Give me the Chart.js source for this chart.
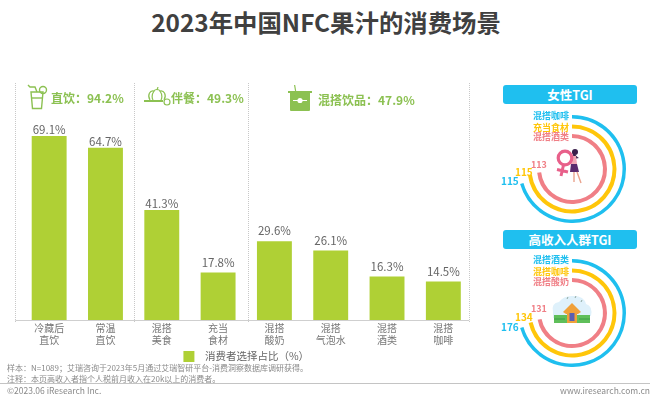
<!DOCTYPE html>
<html>
<head>
<meta charset="utf-8">
<script src="https://cdn.jsdelivr.net/npm/chart.js@4"></script>
<style>
  html, body { margin: 0; padding: 0; background: #fff; }
  body { width: 660px; height: 404px; position: relative; overflow: hidden; font-family: "Noto Sans CJK SC", "Noto Sans", sans-serif; }
  canvas { position: absolute; }
  .txt { position: absolute; white-space: nowrap; line-height: 1; }
  .head { color: #8cc152; font-weight: 700; font-size: 12px; }
  .banner { position: absolute; left: 503px; width: 134px; height: 19px; line-height: 19px; background: #1fbfef; border-radius: 3px; color: #fff; font-weight: 700; font-size: 12.5px; text-align: center; }
  .ringName { font-size: 9px; font-weight: 700; text-align: right; width: 50px; }
  .ringVal { font-size: 10px; font-weight: 700; }
  .note { font-size: 8px; color: #8a8a8a; left: 7px; }
  svg { position: absolute; }
</style>
</head>
<body>
<div class="txt" style="left:0;width:652px;text-align:center;top:10px;font-size:24.4px;font-weight:700;color:#404040;">2023年中国NFC果汁的消费场景</div>

<canvas id="barChart" width="480" height="374" style="left:0;top:0"></canvas>

<svg style="left:27px;top:84px" width="21" height="26" viewBox="0 0 21 26" fill="none" stroke="#8cc152" stroke-width="1.4">
  <path d="M4 8 L5.5 24.5 H14.5 L16 8 Z"/><path d="M1 1 L3 3 L8 3 L10 8"/><circle cx="16" cy="6" r="3.5"/><path d="M4.5 14 H15.5"/>
</svg>
<div class="txt head" id="headA" style="left:51px;top:92px"></div>

<svg style="left:144px;top:87px" width="27" height="19" viewBox="0 0 27 19" fill="none" stroke="#8cc152" stroke-width="1.2">
  <path d="M6 13 C3 8 6 3 10 4 C11 2 15 2 16 4 C20 3 23 8 20 13"/><path d="M10 4 C8 7 8 11 9 13 M16 4 C18 7 18 11 17 13 M13 3 L14 0"/><path d="M0 14 H19" stroke-width="2"/><circle cx="23" cy="15" r="3"/>
</svg>
<div class="txt head" id="headB" style="left:171px;top:92px"></div>

<svg style="left:288px;top:85px" width="24" height="26" viewBox="0 0 24 26">
  <path d="M6 0 L7 6 H8.2 L7.2 0 Z M0 6 H24 V8 H0 Z M2 8 H22 V25 Q22 26 21 26 H3 Q2 26 2 25 Z" fill="#8cc152"/>
  <path d="M5 15.5 H19" stroke="#fff" stroke-width="1"/><circle cx="12" cy="15.5" r="2.6" fill="#fff"/>
</svg>
<div class="txt head" id="headC" style="left:318px;top:94px"></div>

<div class="banner" id="bannerF" style="top:85px"></div>
<canvas id="ringF" width="108" height="108" style="left:518px;top:115px"></canvas>
<div class="banner" id="bannerI" style="top:230px"></div>
<canvas id="ringI" width="108" height="108" style="left:518px;top:259px"></canvas>

<!-- woman + venus sign -->
<svg style="left:553px;top:145px" width="34" height="42" viewBox="0 0 34 42">
  <path d="M19 6 Q24 12 26 13 L21 14 Z" fill="#3b1f4b"/>
  <circle cx="22" cy="7" r="3" fill="#3b1f4b"/>
  <path d="M18 11 H23 L24 19 H18 Z" fill="#f2a7b5"/>
  <path d="M18 19 H24 L26 27 H17 Z" fill="#5b2a6e"/>
  <path d="M21 27 L21 37 M24 27 L28 38" stroke="#eaa38d" stroke-width="1.4"/>
  <circle cx="12" cy="13" r="6.8" fill="#fff" stroke="#e8608a" stroke-width="3.2"/>
  <path d="M10.5 20 L8 31 M4 24.5 L15 27" stroke="#e8608a" stroke-width="3"/>
</svg>
<!-- house -->
<svg style="left:550px;top:294px" width="44" height="32" viewBox="0 0 44 32">
  <path d="M3 18 Q1 9 9 8 Q14 1 24 2 Q34 2 36 10 Q43 12 41 22 L3 24 Z" fill="#dff1fb"/>
  <rect x="4" y="21" width="36" height="8" fill="#5fbf5a"/>
  <path d="M13 18 L22 9 L31 18 L28 20 H16 Z" fill="#f0a13a"/>
  <rect x="17" y="17" width="10" height="12" fill="#f0a13a"/>
  <rect x="19.5" y="19" width="5" height="8" fill="#5a5fb0"/>
  <path d="M4 25 H15 M29 25 H40" stroke="#3f9e47" stroke-width="1"/>
  <path d="M17 5 L18 3 M25 4 L26 2 M31 8 L32 6" stroke="#8fa8a0" stroke-width="1"/>
</svg>

<div id="ringText"></div>

<div class="txt note" id="noteA" style="top:364px"></div>
<div class="txt note" id="noteB" style="top:375px"></div>
<div style="position:absolute;left:0;top:383px;width:650px;height:1px;background:#c4c4c4"></div>
<div class="txt" id="copyL" style="left:7px;top:386px;font-size:8.5px;color:#8a8a8a"></div>
<div class="txt" id="copyR" style="right:10px;top:386px;font-size:8.5px;color:#8a8a8a"></div>

<script>
// Data
const categories = [['冷藏后', '直饮'], ['常温', '直饮'], ['混搭', '美食'], ['充当', '食材'], ['混搭', '酸奶'], ['混搭', '气泡水'], ['混搭', '酒类'], ['混搭', '咖啡']];
const shareValues = [69.1, 64.7, 41.3, 17.8, 29.6, 26.1, 16.3, 14.5];
const seriesName = '\u2002消费者选择占比（%）';
const groupHeads = ['直饮：94.2%', '伴餐：49.3%', '混搭饮品：47.9%'];
const femaleNames = ['混搭咖啡', '充当食材', '混搭酒类'];
const femaleTgi = [115, 115, 113];
const incomeNames = ['混搭酒类', '混搭咖啡', '混搭酸奶'];
const incomeTgi = [176, 134, 131];
const ringColors = ['#1fbfef', '#ffc60a', '#f07f86'];

const BAR_GREEN = '#afd035';

document.getElementById('headA').textContent = groupHeads[0];
document.getElementById('headB').textContent = groupHeads[1];
document.getElementById('headC').textContent = groupHeads[2];
document.getElementById('bannerF').textContent = '女性TGI';
document.getElementById('bannerI').textContent = '高收入人群TGI';
document.getElementById('noteA').textContent = '样本：N=1089；艾瑞咨询于2023年5月通过艾瑞智研平台-消费洞察数据库调研获得。';
document.getElementById('noteB').textContent = '注释：本页高收入者指个人税前月收入在20k以上的消费者。';
document.getElementById('copyL').textContent = '©2023.06 iResearch Inc.';
document.getElementById('copyR').textContent = 'www.iresearch.com.cn';

// value labels above the bars, the short ones sit a bit higher in the original
const barLabels = {
  id: 'barLabels',
  afterDatasetsDraw(chart) {
    const ctx = chart.ctx;
    const meta = chart.getDatasetMeta(0);
    ctx.save();
    ctx.font = '11.5px "Noto Sans CJK SC", sans-serif';
    ctx.fillStyle = '#666';
    ctx.textAlign = 'center';
    ctx.textBaseline = 'bottom';
    meta.data.forEach((bar, i) => {
      const lift = i < 3 ? 0.5 : 4.5;
      ctx.fillText(shareValues[i].toFixed(1) + '%', bar.x, bar.y - lift);
    });
    ctx.restore();
  }
};

// dotted group separators + base line
const separators = {
  id: 'separators',
  beforeDatasetsDraw(chart) {
    const ctx = chart.ctx;
    const x = chart.scales.x;
    const area = chart.chartArea;
    const seps = [-0.6, 1.51, 3.53, 7.46];
    ctx.save();
    ctx.strokeStyle = '#c8c8c8';
    ctx.lineWidth = 1;
    ctx.setLineDash([1, 1]);
    seps.forEach(v => {
      const px = Math.round(x.getPixelForValue(v)) + 0.5;
      ctx.beginPath();
      ctx.moveTo(px, area.top);
      ctx.lineTo(px, area.bottom + 3);
      ctx.stroke();
    });
    ctx.setLineDash([]);
    ctx.strokeStyle = '#cfcfcf';
    ctx.beginPath();
    ctx.moveTo(x.getPixelForValue(seps[0]), area.bottom + 0.5);
    ctx.lineTo(x.getPixelForValue(seps[3]), area.bottom + 0.5);
    ctx.stroke();
    ctx.restore();
  }
};

new Chart(document.getElementById('barChart'), {
  type: 'bar',
  data: {
    labels: categories,
    datasets: [{ label: seriesName, data: shareValues, backgroundColor: BAR_GREEN, categoryPercentage: 0.62, barPercentage: 1 }]
  },
  options: {
    responsive: false,
    animation: false,
    layout: { padding: { left: 21, right: 8.5, top: 83, bottom: 2 } },
    scales: {
      x: {
        grid: { display: false, drawTicks: false, tickLength: 0 },
        border: { display: false },
        ticks: { color: '#777', font: { size: 10, family: '"Noto Sans CJK SC", sans-serif', lineHeight: 1.2 }, padding: 2, maxRotation: 0, autoSkip: false }
      },
      y: { display: false, min: 0, max: 89 }
    },
    plugins: {
      legend: {
        position: 'bottom',
        labels: { boxWidth: 11, boxHeight: 11, padding: 3, color: '#666', font: { size: 10.5, family: '"Noto Sans CJK SC", sans-serif' } }
      },
      tooltip: { enabled: false }
    }
  },
  plugins: [barLabels, separators]
});

// one arc per ring, spacer rings in between keep the gaps
function ringChart(id, values, sweeps) {
  const spacer = w => ({ data: [1], backgroundColor: 'rgba(0,0,0,0)', borderWidth: 0, weight: w });
  new Chart(document.getElementById(id), {
    type: 'doughnut',
    data: {
      datasets: [
        { data: [values[0]], backgroundColor: ringColors[0], borderWidth: 0, weight: 3.5, circumference: sweeps[0] },
        spacer(6),
        { data: [values[1]], backgroundColor: ringColors[1], borderWidth: 0, weight: 4, circumference: sweeps[1] },
        spacer(5.5),
        { data: [values[2]], backgroundColor: ringColors[2], borderWidth: 0, weight: 4, circumference: sweeps[2] }
      ]
    },
    options: {
      responsive: false,
      animation: false,
      cutout: 31,
      plugins: { legend: { display: false }, tooltip: { enabled: false } }
    }
  });
}
ringChart('ringF', femaleTgi, [254, 262, 264]);
ringChart('ringI', incomeTgi, [254, 257, 259]);

// ring captions
function ringText(names, values, nameTops, valuePos) {
  const box = document.getElementById('ringText');
  names.forEach((n, i) => {
    const a = document.createElement('div');
    a.className = 'txt ringName';
    a.style.cssText = `left:${519}px;top:${nameTops[i]}px;color:${ringColors[i]}`;
    a.textContent = n;
    box.appendChild(a);
    const b = document.createElement('div');
    b.className = 'txt ringVal';
    b.style.cssText = `left:${valuePos[i][0]}px;top:${valuePos[i][1]}px;color:${ringColors[i]};font-size:${i === 2 ? 9 : 10}px`;
    b.textContent = values[i];
    box.appendChild(b);
  });
}
ringText(femaleNames, femaleTgi, [111, 123, 132], [[501, 176], [515, 167], [531, 160]]);
ringText(incomeNames, incomeTgi, [255, 267, 277], [[501, 322], [515, 312], [531, 304]]);
</script>
</body>
</html>
